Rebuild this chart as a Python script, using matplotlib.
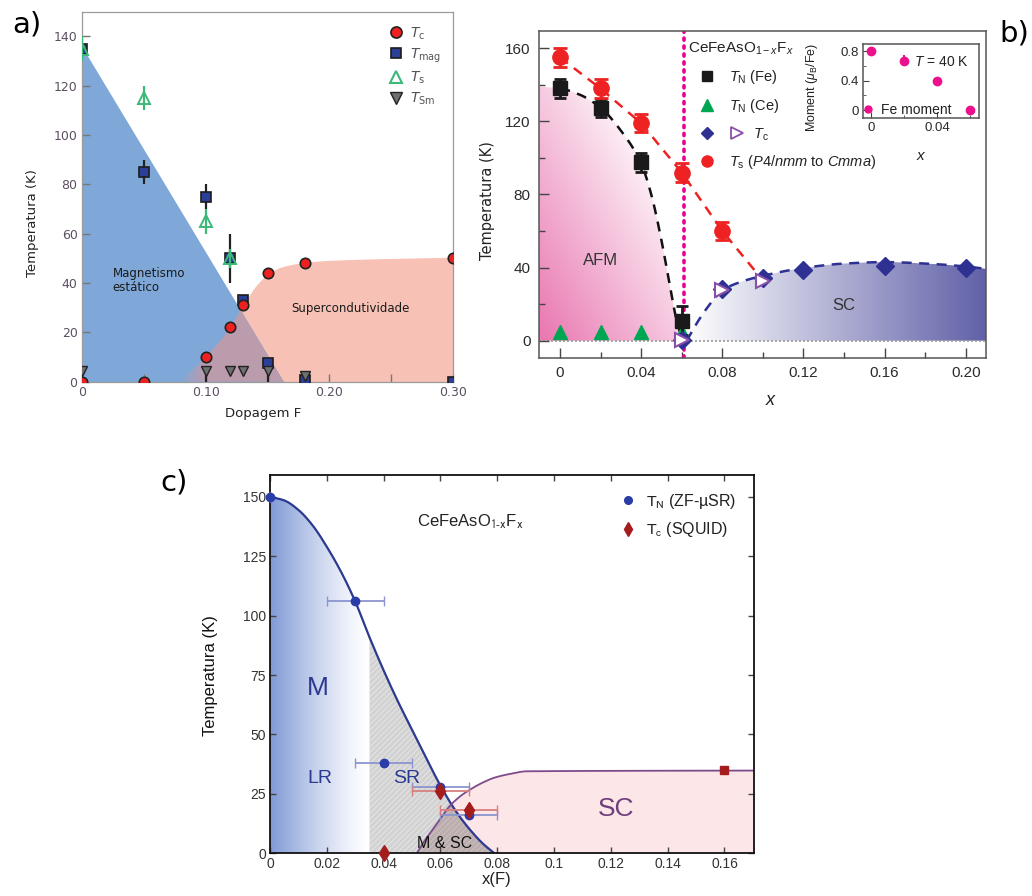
import numpy as np
import matplotlib
matplotlib.use("Agg")
import matplotlib.pyplot as plt
from matplotlib.patches import Polygon
from matplotlib.lines import Line2D
from matplotlib.legend_handler import HandlerBase
from matplotlib.font_manager import FontProperties
from matplotlib.ticker import MultipleLocator

NARROW = ["Liberation Sans Narrow", "Liberation Sans", "DejaVu Sans"]
ARIAL = ["Liberation Sans", "DejaVu Sans"]
DEJAVU = ["DejaVu Sans"]

plt.rcParams["mathtext.fontset"] = "custom"
plt.rcParams["mathtext.rm"] = "Liberation Sans"
plt.rcParams["mathtext.it"] = "Liberation Sans:italic"
plt.rcParams["mathtext.bf"] = "Liberation Sans:bold"
plt.rcParams["hatch.linewidth"] = 0.5

# ---------------- panel a: 1111 phase diagram ----------------
a_tc_x = [0, 0.05, 0.10, 0.12, 0.13, 0.15, 0.18, 0.30]
a_tc_T = [0, 0, 10, 22, 31, 44, 48, 50]
a_mag_x = [0, 0.05, 0.10, 0.12, 0.13, 0.15, 0.18, 0.30]
a_mag_T = [135, 85, 75, 50, 33, 7.5, 0.5, 0]
a_mag_err = [0, 5, 5, 10, 0, 0, 0, 0]
a_s_x = [0, 0.05, 0.10, 0.12]
a_s_T = [135, 115, 65, 50]
a_s_err = [5, 5, 5, 4]
a_sm_x = [0, 0.10, 0.12, 0.13, 0.15, 0.18]
a_sm_T = [4.5, 4.5, 4.5, 4.5, 4.5, 2.5]
a_sm_err_lo = [0, 4.5, 0, 0, 4.5, 0]
# phase boundaries
a_mag_edge_x = [0, 0.163]
a_mag_edge_T = [136, 0]
a_sc_edge_x = [0.078, 0.09, 0.10, 0.11, 0.12, 0.13, 0.14, 0.15, 0.16, 0.175, 0.20, 0.30]
a_sc_edge_T = [0, 5, 10, 15.5, 22, 30.5, 38.5, 43.5, 46.3, 48, 49.2, 50.5]

# ---------------- panel b: CeFeAsO1-xFx (neutrons) ----------------
b_tn_x = [0, 0.02, 0.04, 0.06]
b_tn_T = [138, 127.5, 97.5, 11]
b_tn_err = [5, 5, 5, 8]
b_ce_x = [0, 0.02, 0.04, 0.06]
b_ce_T = [4.8, 4.8, 4.8, 4.8]
b_tcd_x = [0.06, 0.08, 0.10, 0.12, 0.16, 0.20]
b_tcd_T = [0.5, 28.5, 34.5, 38.5, 40.8, 40]
b_tct_x = [0.06, 0.08, 0.10]
b_tct_T = [0.5, 27.5, 32.5]
b_ts_x = [0, 0.02, 0.04, 0.06, 0.08]
b_ts_T = [155, 138, 119, 92, 60]
b_ts_err = [5, 5, 5, 5, 5]
# guide lines / boundaries
b_ts_guide_x = [0, 0.02, 0.04, 0.06, 0.08, 0.10]
b_ts_guide_T = [155, 138, 119, 92, 60, 33]
b_afm_x = [-0.0103, 0, 0.01, 0.02, 0.03, 0.04, 0.045, 0.05, 0.055, 0.0575, 0.0605]
b_afm_T = [139, 138, 134.5, 127.5, 115, 97, 80, 55, 25, 11, 0]
b_sc_x = [0.0625, 0.065, 0.07, 0.075, 0.08, 0.09, 0.10, 0.12, 0.14, 0.16, 0.18, 0.20, 0.2099]
b_sc_T = [0, 5, 14, 21.5, 27.5, 32.5, 35.5, 39.8, 42.2, 43, 42.2, 40.6, 39.3]
b_xc = 0.0611
# inset: ordered Fe moment at 40 K
b_mom_x = [0, 0.02, 0.04, 0.06]
b_mom = [0.80, 0.67, 0.40, 0.0]
b_mom_err = [0.03, 0.08, 0.04, 0.03]

# ---------------- panel c: CeFeAsO1-xFx (muSR) ----------------
c_tn_x = [0, 0.03, 0.04, 0.06, 0.07]
c_tn_T = [150, 106, 38, 28, 16]
c_tn_xerr = [0, 0.01, 0.01, 0.01, 0.01]
c_tc_x = [0.04, 0.06, 0.07]
c_tc_T = [0, 26, 18]
c_tc_xerr = [0, 0.01, 0.01]
c_tc_sq_x = [0.16]
c_tc_sq_T = [35]
c_m_edge_x = [0, 0.005, 0.01, 0.015, 0.02, 0.025, 0.03, 0.035, 0.04, 0.045, 0.05,
              0.055, 0.06, 0.065, 0.07, 0.075, 0.079]
c_m_edge_T = [150, 148.5, 144.5, 138, 129, 118.5, 106, 91, 77, 64, 52,
              40, 28.5, 18.5, 10.5, 4, 0]
c_sc_edge_x = [0.0517, 0.054, 0.057, 0.06, 0.063, 0.067, 0.071, 0.075, 0.079, 0.085, 0.0905, 0.1704]
c_sc_edge_T = [0, 4.5, 9.5, 14.5, 19.5, 24, 27.2, 29.8, 31.8, 33.5, 34.5, 34.8]
c_lr_limit = 0.035


def pchip(xk, yk, num=400):
    """Monotone cubic interpolation through the given nodes."""
    xk = np.asarray(xk, float)
    yk = np.asarray(yk, float)
    h = np.diff(xk)
    d = np.diff(yk) / h
    m = np.zeros_like(yk)
    m[0], m[-1] = d[0], d[-1]
    for i in range(1, len(xk) - 1):
        if d[i - 1] * d[i] <= 0:
            m[i] = 0.0
        else:
            w1 = 2 * h[i] + h[i - 1]
            w2 = h[i] + 2 * h[i - 1]
            m[i] = (w1 + w2) / (w1 / d[i - 1] + w2 / d[i])
    x = np.linspace(xk[0], xk[-1], num)
    idx = np.clip(np.searchsorted(xk, x) - 1, 0, len(h) - 1)
    t = (x - xk[idx]) / h[idx]
    h00 = 2 * t**3 - 3 * t**2 + 1
    h10 = t**3 - 2 * t**2 + t
    h01 = -2 * t**3 + 3 * t**2
    h11 = t**3 - t**2
    y = h00 * yk[idx] + h10 * h[idx] * m[idx] + h01 * yk[idx + 1] + h11 * h[idx] * m[idx + 1]
    return x, y


def gradient_fill(ax, xs, top, rgba, extent, zorder):
    """Paint an RGBA image inside the area between a curve and T = 0."""
    xs = np.asarray(xs)
    top = np.asarray(top)
    verts = np.column_stack([np.r_[xs, xs[::-1]], np.r_[top, np.zeros_like(top)]])
    poly = Polygon(verts, closed=True, facecolor="none", edgecolor="none",
                   transform=ax.transData)
    ax.add_patch(poly)
    im = ax.imshow(rgba, extent=extent, origin="lower", aspect="auto",
                   interpolation="bilinear", zorder=zorder)
    im.set_clip_path(poly)
    return im


class PairHandler(HandlerBase):
    """Legend handler drawing two markers side by side."""

    def __init__(self, gap=1.2, **kw):
        super().__init__(**kw)
        self.gap = gap

    def create_artists(self, legend, orig_handle, xdescent, ydescent, width, height,
                       fontsize, trans):
        cy = 0.5 * height - ydescent
        cx = 0.5 * width - xdescent
        arts = []
        for h, dx in zip(orig_handle, (0.0, self.gap * fontsize)):
            ln = Line2D([cx + dx], [cy])
            ln.update_from(h)
            ln.set_linestyle("none")
            ln.set_transform(trans)
            arts.append(ln)
        return arts


fig = plt.figure(figsize=(10.32, 8.96), dpi=100)

# =============================== a ===============================
A_BLUE, A_PINK, A_MAUVE = "#7fa8d9", "#f7c2b5", "#bb9cad"
axa = fig.add_axes([0.0792, 0.574, 0.3601, 0.4129])
sx, sT = pchip(a_sc_edge_x, a_sc_edge_T)
axa.fill_between(sx, 0, sT, color=A_PINK, lw=0, zorder=1)
axa.fill_between(a_mag_edge_x, 0, a_mag_edge_T, color=A_BLUE, lw=0, zorder=1.1)
ox = np.linspace(a_sc_edge_x[0], a_mag_edge_x[-1], 300)
oT = np.minimum(np.interp(ox, a_mag_edge_x, a_mag_edge_T), np.interp(ox, sx, sT))
ramp = np.clip((ox - a_sc_edge_x[0]) / 0.022, 0, 1)
img = np.zeros((2, ox.size, 4))
img[..., :3] = matplotlib.colors.to_rgb(A_MAUVE)
img[..., 3] = ramp[None, :]
gradient_fill(axa, ox, oT, img, [ox[0], ox[-1], 0, oT.max()], 1.2)

axa.errorbar(a_mag_x, a_mag_T, yerr=a_mag_err, fmt="s", ms=7, mfc="#2b3f98", mec="#1c1c1c",
             mew=1.2, ecolor="#222222", elinewidth=1.6, capsize=0, zorder=3)
axa.errorbar(a_sm_x, a_sm_T, yerr=[a_sm_err_lo, [0] * len(a_sm_x)], fmt="v", ms=7.5,
             mfc="#6f6f6f", mec="#222222", mew=1.0, ecolor="#222222", elinewidth=1.6,
             capsize=0, zorder=3.1)
axa.errorbar(a_s_x, a_s_T, yerr=a_s_err, fmt="^", ms=8, mfc="none", mec="#3cb878",
             mew=1.4, ecolor="#3cb878", elinewidth=1.6, capsize=0, zorder=3.2)
axa.plot(a_tc_x, a_tc_T, "o", ms=7.5, mfc="#ee2020", mec="#222222", mew=1.2, zorder=3.3)

axa.set_xlim(0, 0.30)
axa.set_ylim(0, 150)
axa.set_xticks([0, 0.10, 0.20, 0.30], ["0", "0.10", "0.20", "0.30"])
axa.xaxis.set_minor_locator(MultipleLocator(0.05))
axa.set_yticks(np.arange(0, 141, 20))
axa.tick_params(which="both", direction="in", length=6, color="#777777", width=1,
                labelsize=9, labelcolor="#5c4f60", pad=3)
for sp in axa.spines.values():
    sp.set_color("#9a9a9a")
    sp.set_linewidth(0.9)
axa.set_ylabel("Temperatura (K)", fontsize=9.5, family=DEJAVU, color="#222222")
axa.yaxis.set_label_coords(-0.115, 0.43)
axa.set_xlabel("Dopagem F", fontsize=9.5, family=DEJAVU, color="#222222")
axa.xaxis.set_label_coords(0.487, -0.068)
axa.text(0.025, 41, "Magnetismo\nestático", fontsize=8.5, family=DEJAVU, va="center",
         linespacing=1.05, color="#1a1a1a", zorder=4)
axa.text(0.169, 29.6, "Supercondutividade", fontsize=8.5, family=DEJAVU, va="center",
         color="#1a1a1a", zorder=4)
a_handles = [
    Line2D([], [], ls="none", marker="o", ms=8, mfc="#ee2020", mec="#222222", mew=1.2),
    Line2D([], [], ls="none", marker="s", ms=7.5, mfc="#2b3f98", mec="#1c1c1c", mew=1.2),
    Line2D([], [], ls="none", marker="^", ms=8.5, mfc="none", mec="#3cb878", mew=1.5),
    Line2D([], [], ls="none", marker="v", ms=8.5, mfc="#6f6f6f", mec="#222222", mew=1.0),
]
a_labels = [r"$T_{\rm c}$", r"$T_{\rm mag}$", r"$T_{\rm s}$", r"$T_{\rm Sm}$"]
axa.legend(a_handles, a_labels, loc="upper left", bbox_to_anchor=(0.80, 0.99),
           frameon=False, handlelength=1.0, handletextpad=0.5, labelspacing=0.35,
           borderpad=0.2, prop=FontProperties(family=DEJAVU, size=10,
                                               math_fontfamily="dejavusans"),
           labelcolor="#555555")

# =============================== b ===============================
axb = fig.add_axes([0.5223, 0.6004, 0.4331, 0.3653])
xlo, xhi, ylo, yhi = -0.0103, 0.2099, -9.5, 169.6
afm_x, afm_T = pchip(b_afm_x, b_afm_T)
gx = np.linspace(b_afm_x[0], b_afm_x[-1], 200)
gy = np.linspace(0, 140, 200)
GX, GY = np.meshgrid(gx, gy)
s = np.clip(1 - 0.62 * ((GX - gx[0]) / (gx[-1] - gx[0]) + GY / 140), 0.06, 1)
pk = np.array([233, 118, 176]) / 255
img = np.ones((200, 200, 4))
img[..., :3] = 1 - s[..., None] * (1 - pk)
gradient_fill(axb, afm_x, afm_T, img, [gx[0], gx[-1], 0, 140], 1)

sc_x, sc_T = pchip(b_sc_x, b_sc_T)
hx = np.linspace(b_sc_x[0], b_sc_x[-1], 300)
u = np.clip((hx - b_sc_x[0]) / (b_sc_x[-1] - b_sc_x[0]), 0, 1)
nv = np.array([96, 96, 168]) / 255
img = np.ones((2, hx.size, 4))
img[..., :3] = 1 - (u[None, :, None]) * (1 - nv)
gradient_fill(axb, sc_x, sc_T, img, [hx[0], hx[-1], 0, 45], 1)

axb.axhline(0, color="#9a9a9a", lw=1.2, ls=(0, (1.2, 1.2)), zorder=1.5)
axb.axvline(b_xc, color="#ec008c", lw=2.6, ls=(0, (0.6, 1.6)), dash_capstyle="round",
            zorder=2.5)
m0 = afm_x >= 0
axb.plot(afm_x[m0], afm_T[m0], color="#111111", lw=1.8, ls=(0, (4, 3)), zorder=2)
axb.plot(b_ts_guide_x, b_ts_guide_T, color="#ee2222", lw=1.8, ls=(0, (4, 3)), zorder=2)
axb.plot(sc_x, sc_T, color="#2e3192", lw=1.8, ls=(0, (4, 3)), zorder=2)

axb.plot(b_ce_x, b_ce_T, "^", ms=10, color="#00a651", zorder=3)
axb.errorbar(b_tn_x, b_tn_T, yerr=b_tn_err, fmt="s", ms=10, color="#1a1a1a",
             elinewidth=2, capsize=4.5, capthick=2, zorder=3.2)
axb.errorbar(b_ts_x, b_ts_T, yerr=b_ts_err, fmt="o", ms=11, color="#ee2222",
             elinewidth=2, capsize=5, capthick=2, zorder=3.3)
axb.plot(b_tcd_x, b_tcd_T, "D", ms=9, color="#2e3192", zorder=3.4)
axb.plot(b_tct_x, b_tct_T, ">", ms=10, mfc="white", mec="#8a4fa8", mew=1.5, zorder=3.5)

axb.set_xlim(xlo, xhi)
axb.set_ylim(ylo, yhi)
axb.set_xticks(np.arange(0, 0.201, 0.04), ["0", "0.04", "0.08", "0.12", "0.16", "0.20"],
               family=NARROW, fontsize=11)
axb.xaxis.set_minor_locator(MultipleLocator(0.02))
axb.set_yticks(np.arange(0, 161, 40), ["0", "40", "80", "120", "160"], family=NARROW,
               fontsize=11)
axb.yaxis.set_minor_locator(MultipleLocator(20))
axb.tick_params(which="major", direction="in", length=7, width=1, color="#444444",
                labelcolor="#2a2a2a", pad=6)
axb.tick_params(which="minor", direction="in", length=4, width=1, color="#444444")
for sp in axb.spines.values():
    sp.set_color("#555555")
    sp.set_linewidth(1.1)
axb.set_ylabel("Temperatura (K)", fontsize=10.5, family=DEJAVU, color="#222222")
axb.yaxis.set_label_coords(-0.098, 0.48)
axb.set_xlabel(r"$x$", fontsize=13, color="#222222")
axb.xaxis.set_label_coords(0.519, -0.10)
axb.text(0.0198, 44, "AFM", fontsize=12, family=NARROW, ha="center", va="center",
         color="#333333", zorder=4)
axb.text(0.140, 19, "SC", fontsize=12, family=NARROW, ha="center", va="center",
         color="#333333", zorder=4)

b_handles = [
    Line2D([], [], ls="none", marker="s", ms=7.5, color="#1a1a1a"),
    Line2D([], [], ls="none", marker="^", ms=8, color="#00a651"),
    (Line2D([], [], ls="none", marker="D", ms=6.5, color="#2e3192"),
     Line2D([], [], ls="none", marker=">", ms=8, mfc="white", mec="#8a4fa8", mew=1.3)),
    Line2D([], [], ls="none", marker="o", ms=8, color="#ee2222"),
]
b_labels = [r"$T_{\rm N}$ (Fe)", r"$T_{\rm N}$ (Ce)", r"      $T_{\rm c}$",
            r"$T_{\rm s}$ ($P4/nmm$ to $Cmma$)"]
legb = axb.legend(b_handles, b_labels, loc="upper left", bbox_to_anchor=(0.31, 1.0),
                  frameon=False, handlelength=2.6, handletextpad=0.25, labelspacing=0.75,
                  borderpad=0.2, title=r"CeFeAsO$_{1-x}$F$_x$", alignment="left",
                  handler_map={tuple: PairHandler(gap=2.1)},
                  prop=FontProperties(family=NARROW, size=10.5), labelcolor="#222222")
legb.get_title().set_fontproperties(FontProperties(family=NARROW, size=11))
legb.get_title().set_color("#222222")

# inset
axi = fig.add_axes([0.8362, 0.8683, 0.1124, 0.0826])
axi.errorbar(b_mom_x, b_mom, yerr=b_mom_err, fmt="o", ms=6, color="#ec108c",
             elinewidth=1.5, capsize=0)
axi.set_xlim(-0.0048, 0.0655)
axi.set_ylim(-0.108, 0.895)
axi.set_xticks([0, 0.04], ["0", "0.04"], family=NARROW, fontsize=9.5)
axi.xaxis.set_minor_locator(MultipleLocator(0.02))
axi.set_yticks([0, 0.4, 0.8], ["0", "0.4", "0.8"], family=NARROW, fontsize=9.5)
axi.yaxis.set_minor_locator(MultipleLocator(0.2))
axi.tick_params(which="major", direction="in", length=4, color="#444444",
                labelcolor="#2a2a2a", pad=3)
axi.tick_params(which="minor", direction="in", length=2.5, color="#444444")
for sp in axi.spines.values():
    sp.set_color("#555555")
    sp.set_linewidth(1.1)
axi.set_ylabel(r"Moment ($\mu_{\rm B}$/Fe)", fontsize=9, family=NARROW, color="#222222")
axi.yaxis.set_label_coords(-0.37, 0.42)
axi.set_xlabel(r"$x$", fontsize=11, color="#222222")
axi.xaxis.set_label_coords(0.5, -0.40)
axi.text(0.026, 0.65, r"$T$ = 40 K", fontsize=10, family=NARROW, va="center",
         color="#222222")
axi.legend([Line2D([], [], ls="none", marker="o", ms=5, color="#ec108c")], ["Fe moment"],
           loc="lower left", bbox_to_anchor=(-0.06, -0.10), frameon=False,
           handlelength=0.6, handletextpad=0.6, borderpad=0.1,
           prop=FontProperties(family=NARROW, size=10), labelcolor="#222222")

# =============================== c ===============================
axc = fig.add_axes([0.2616, 0.0477, 0.469, 0.4222])
mx_c, mT_c = pchip(c_m_edge_x, c_m_edge_T)
scx_c, scT_c = pchip(c_sc_edge_x, c_sc_edge_T)
axc.fill_between(scx_c, 0, scT_c, color="#fce6e7", lw=0, zorder=1)
sr = mx_c >= c_lr_limit
axc.fill_between(mx_c[sr], 0, mT_c[sr], facecolor="#d2d2d2", edgecolor="#ededed",
                 hatch="//////", lw=0, zorder=1.1)
ovx = np.linspace(c_sc_edge_x[0], c_m_edge_x[-1], 200)
ovT = np.minimum(np.interp(ovx, mx_c, mT_c), np.interp(ovx, scx_c, scT_c))
axc.fill_between(ovx, 0, ovT, facecolor="#bcaeae", edgecolor="#cfc6c6",
                 hatch="//////", lw=0, zorder=1.2)
lr = mx_c <= c_lr_limit
lx = np.linspace(0, c_lr_limit, 200)
v = (1 - lx / c_lr_limit) ** 1.3
bl = np.array([128, 154, 214]) / 255
img = np.ones((2, lx.size, 4))
img[..., :3] = 1 - v[None, :, None] * (1 - bl)
gradient_fill(axc, mx_c[lr], mT_c[lr], img, [0, c_lr_limit, 0, 150], 1.3)

axc.plot(mx_c, mT_c, color="#2b3990", lw=1.6, zorder=2)
axc.plot(scx_c, scT_c, color="#7d4b8c", lw=1.3, zorder=2)

axc.errorbar(c_tn_x, c_tn_T, xerr=c_tn_xerr, fmt="o", ms=6, color="#2a3ca8",
             ecolor="#8c95d0", elinewidth=1.3, capsize=3.5, capthick=1, zorder=3,
             clip_on=False)
axc.errorbar(c_tc_x, c_tc_T, xerr=c_tc_xerr, fmt="d", ms=8, color="#a51c1c",
             ecolor="#d88080", elinewidth=1.3, capsize=3.5, capthick=1, zorder=3.1,
             clip_on=False)
axc.plot(c_tc_sq_x, c_tc_sq_T, "s", ms=5.5, color="#a51c1c", zorder=3.1)

axc.set_xlim(0, 0.1704)
axc.set_ylim(0, 159.2)
c_xt = np.arange(0, 0.161, 0.02)
axc.set_xticks(c_xt, ["0", "0.02", "0.04", "0.06", "0.08", "0.1", "0.12", "0.14", "0.16"],
               family=ARIAL, fontsize=10)
axc.set_yticks(np.arange(0, 151, 25), ["0", "25", "50", "75", "100", "125", "150"],
               family=ARIAL, fontsize=10)
axc.tick_params(which="major", direction="in", length=4, width=1, color="#444444",
                labelcolor="#333333", top=True, right=True, pad=3)
for sp in axc.spines.values():
    sp.set_color("#111111")
    sp.set_linewidth(1.3)
axc.set_ylabel("Temperatura (K)", fontsize=12, family=ARIAL, color="#111111")
axc.yaxis.set_label_coords(-0.107, 0.47)
axc.set_xlabel("x(F)", fontsize=12, family=ARIAL, color="#222222")
axc.xaxis.set_label_coords(0.469, -0.05)

cm = dict(math_fontfamily="stixsans")
axc.text(0.0518, 139.4, r"CeFeAsO$_{\mathrm{1\text{-}x}}$F$_{\mathrm{x}}$", fontsize=12,
         family=ARIAL, va="center", color="#222222", **cm)
axc.text(0.0167, 69.4, "M", fontsize=19, family=ARIAL, ha="center", va="center",
         color="#2b3990", zorder=4)
axc.text(0.0176, 31.5, "LR", fontsize=14, family=ARIAL, ha="center", va="center",
         color="#2b3990", zorder=4)
axc.text(0.0481, 31.5, "SR", fontsize=14, family=ARIAL, ha="center", va="center",
         color="#2b3990", zorder=4)
axc.text(0.0616, 4.2, "M & SC", fontsize=11.5, family=ARIAL, ha="center", va="center",
         color="#111111", zorder=4)
axc.text(0.1218, 18.5, "SC", fontsize=19, family=ARIAL, ha="center", va="center",
         color="#6e3f7c", zorder=4)
c_handles = [Line2D([], [], ls="none", marker="o", ms=5.5, color="#2a3ca8"),
             Line2D([], [], ls="none", marker="d", ms=7, color="#a51c1c")]
c_labels = [r"$\mathrm{T}_{\mathrm{N}}$ (ZF-µSR)", r"$\mathrm{T}_{\mathrm{c}}$ (SQUID)"]
axc.legend(c_handles, c_labels, loc="upper left", bbox_to_anchor=(0.70, 0.985),
           frameon=False, handlelength=1.0, handletextpad=0.6, labelspacing=0.6,
           borderpad=0.2, prop=FontProperties(family=ARIAL, size=11.5,
                                               math_fontfamily="stixsans"),
           labelcolor="#222222")

# panel tags
fig.text(0.012, 0.988, "a)", fontsize=21, family=DEJAVU, va="top", ha="left")
fig.text(0.968, 0.978, "b)", fontsize=21, family=DEJAVU, va="top", ha="left")
fig.text(0.155, 0.477, "c)", fontsize=21, family=DEJAVU, va="top", ha="left")

fig.savefig("out.png", dpi=100, facecolor="white")
